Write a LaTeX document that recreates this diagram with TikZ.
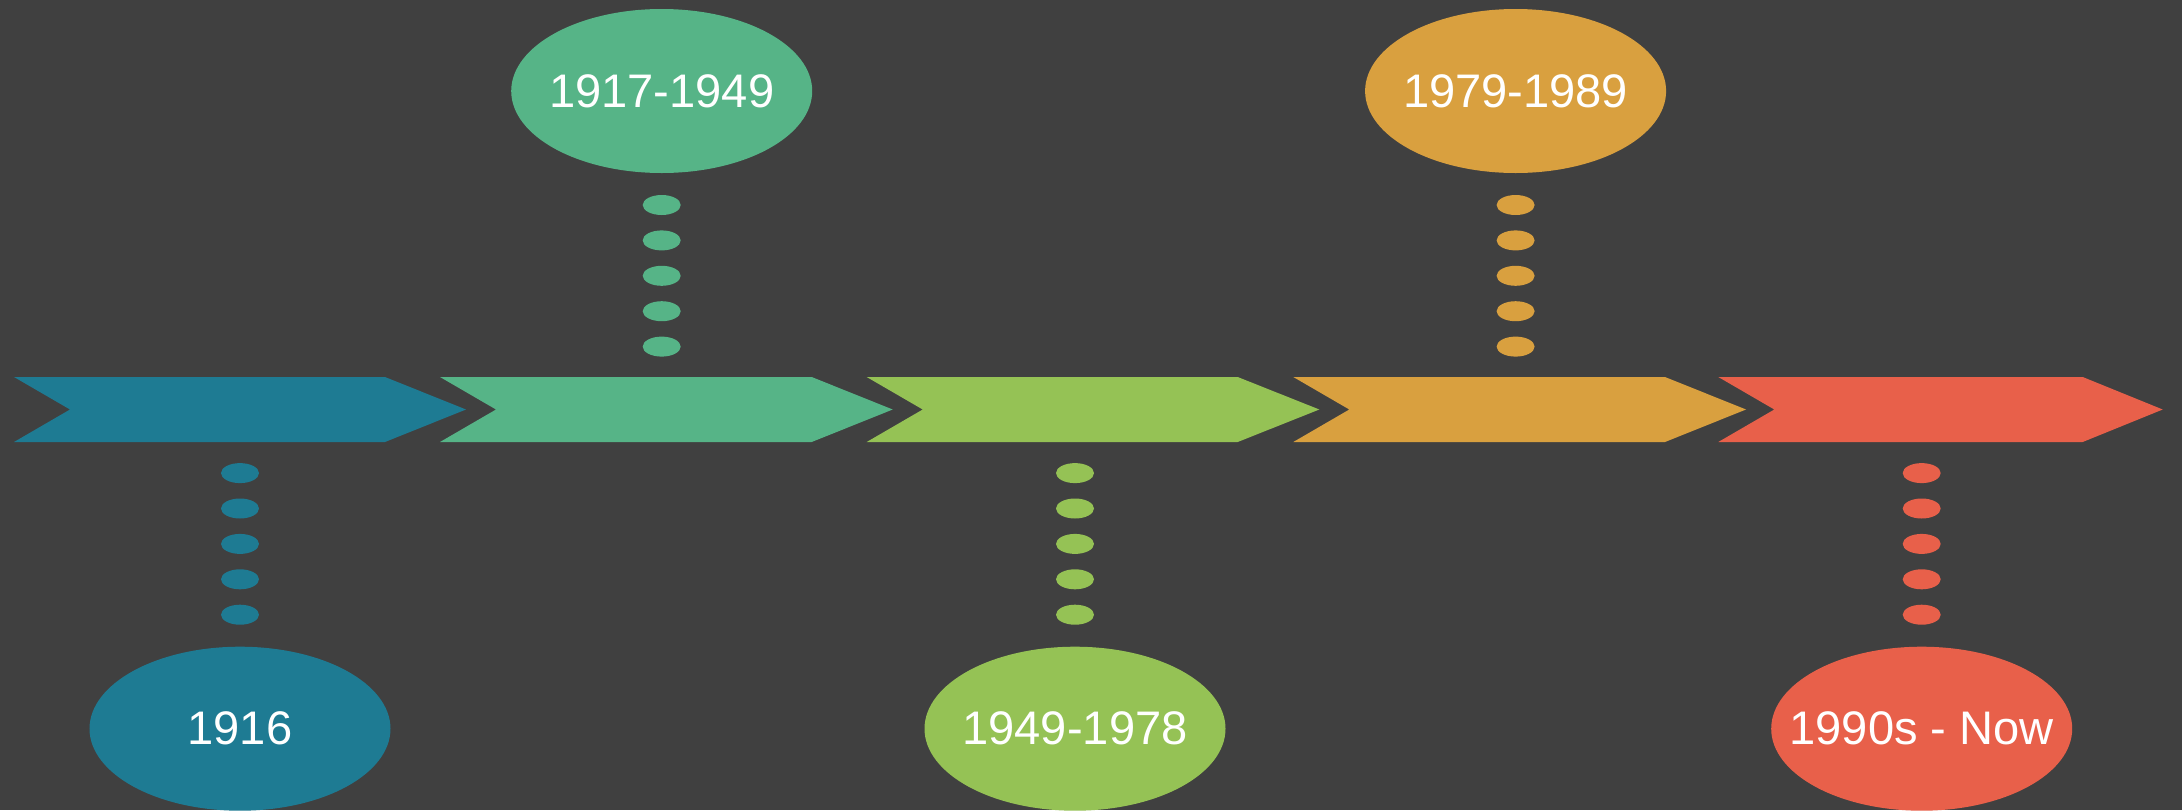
\documentclass[tikz,border=0pt]{standalone}
\usepackage{fontspec}
\setmainfont{Liberation Sans}
\definecolor{my_background}{HTML}{404040}
\definecolor{my_teal}{HTML}{1E7B93}
\definecolor{my_green}{HTML}{56B487}
\definecolor{my_lime}{HTML}{95C255}
\definecolor{my_orange}{HTML}{D9A03F}
\definecolor{my_red}{HTML}{E8604A}

\begin{document}
\begin{tikzpicture}[
    erashape/.style={x radius=1.505, y radius=0.82},
    eralabel/.style={inner sep=0pt, text=white, font=\fontsize{13.4}{16}\selectfont},
    timedot/.style={x radius=0.19, y radius=0.10}
]

% ==========================================================
% Frame: 21.82 cm x 8.10 cm, dark background
% Chevron band between y = 3.68 and y = 4.33 (middle 4.005)
% ==========================================================
\fill[my_background] (0,0) rectangle (21.82,8.10);
\useasboundingbox (0,0) rectangle (21.82,8.10);

% ----------------------------------------------------------
% Chevrons: left edge / right corner / tip
% ----------------------------------------------------------
\foreach \lx/\cx/\tx/\col in {0.14/3.850/4.660/my_teal,
                              4.40/8.117/8.927/my_green,
                              8.667/12.377/13.193/my_lime,
                              12.933/16.650/17.460/my_orange,
                              17.183/20.827/21.627/my_red} {
    \fill[\col] (\lx,4.33) -- (\cx,4.33) -- (\tx,4.005)
        -- (\cx,3.68) -- (\lx,3.68) -- (\lx+0.56,4.005) -- cycle;
}

% ----------------------------------------------------------
% Era ellipses (alternating below / above the band)
% ----------------------------------------------------------
\fill[my_teal] (2.400,0.813) ellipse [erashape];
\node[eralabel] (e1916) at (2.400,0.813) {1916};

\fill[my_green] (6.617,7.190) ellipse [erashape];
\node[eralabel] (e1917) at (6.617,7.190) {1917-1949};

\fill[my_lime] (10.750,0.813) ellipse [erashape];
\node[eralabel] (e1949) at (10.750,0.813) {1949-1978};

\fill[my_orange] (15.156,7.190) ellipse [erashape];
\node[eralabel] (e1979) at (15.156,7.190) {1979-1989};

\fill[my_red] (19.217,0.813) ellipse [erashape];
\node[eralabel] (e1990) at (19.217,0.813) {1990s - Now};

% ----------------------------------------------------------
% Dotted links: five small dots between band and ellipse
% ----------------------------------------------------------
\foreach \n/\col/\dir in {e1916/my_teal/1, e1917/my_green/-1,
                          e1949/my_lime/1, e1979/my_orange/-1,
                          e1990/my_red/1} {
    \foreach \k in {0,...,4} {
        \fill[\col] ([yshift={\dir*(1.14cm+0.354cm*\k)}]\n.center)
            ellipse [timedot];
    }
}

\end{tikzpicture}
\end{document}
